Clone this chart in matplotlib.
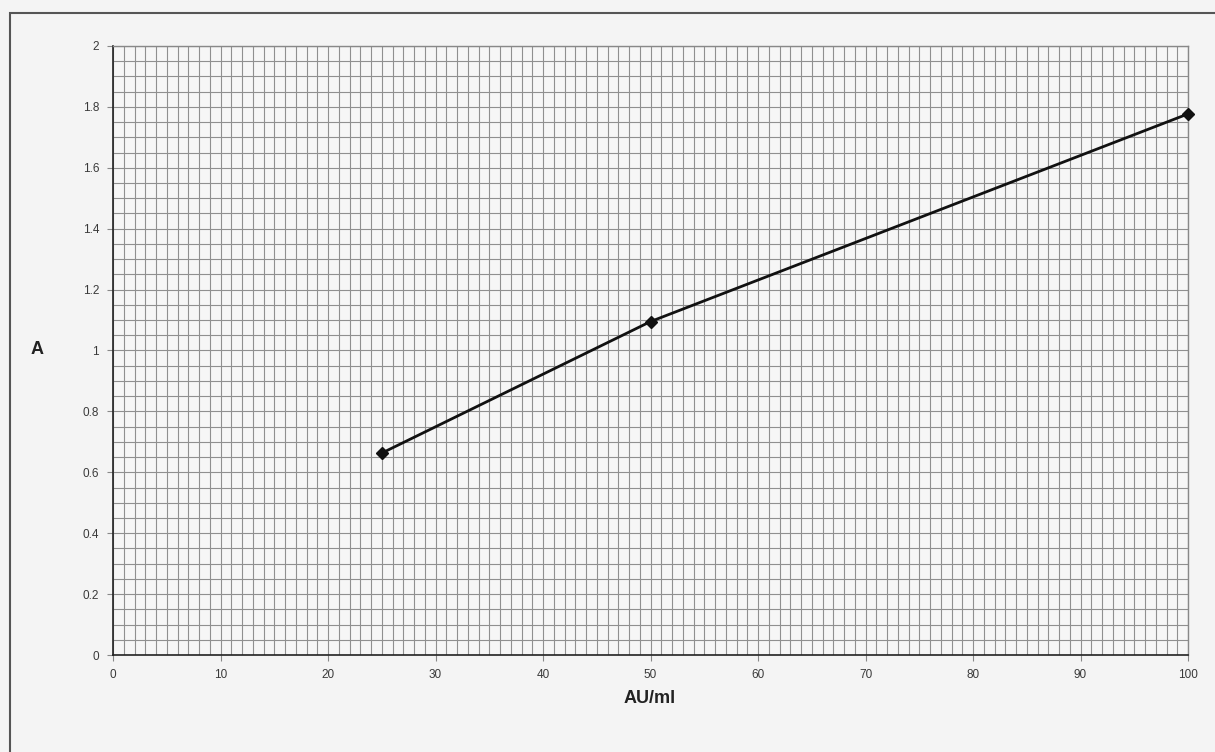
import matplotlib
matplotlib.use("Agg")
import matplotlib.pyplot as plt
from matplotlib.patches import Rectangle
import numpy as np

x_values = [25, 50, 100]
a_values = [0.663, 1.095, 1.777]
x_ticks = [0, 10, 20, 30, 40, 50, 60, 70, 80, 90, 100]
y_ticks = [0, 0.2, 0.4, 0.6, 0.8, 1, 1.2, 1.4, 1.6, 1.8, 2]
y_ticklabels = ["0", "0.2", "0.4", "0.6", "0.8", "1", "1.2", "1.4", "1.6", "1.8", "2"]

plt.rcParams['font.family'] = ['Liberation Sans', 'DejaVu Sans']

fig = plt.figure(figsize=(12.15, 7.52), dpi=100)
fig.patch.set_facecolor('#f4f4f4')

# outer chart frame
fig.patches.append(Rectangle((10/1215, -0.1), 1.2, 1 - 13/752 + 0.1,
                             transform=fig.transFigure, fill=False,
                             edgecolor='#555555', linewidth=1.5))

ax = fig.add_axes([113/1215, 1 - 655/752, (1188 - 113)/1215, (655 - 46)/752])
ax.set_facecolor('#f6f6f6')
ax.set_xlim(0, 100)
ax.set_ylim(0, 2)
ax.set_xticks(x_ticks)
ax.set_xticklabels([str(t) for t in x_ticks])
ax.set_yticks(y_ticks)
ax.set_yticklabels(y_ticklabels)
ax.set_xticks(np.arange(0, 101, 1), minor=True)
ax.set_yticks(np.linspace(0, 2, 41), minor=True)
ax.grid(which='both', color='#8f8f8f', linewidth=0.8)
ax.set_axisbelow(True)
ax.tick_params(which='minor', length=0)
ax.tick_params(which='major', length=4, color='#888888', labelsize=8.5,
               labelcolor='#3a3a3a', pad=6)

for side in ['top', 'right']:
    ax.spines[side].set_color('#888888')
    ax.spines[side].set_linewidth(1.0)
for side in ['left', 'bottom']:
    ax.spines[side].set_color('#222222')
    ax.spines[side].set_linewidth(1.2)

ax.plot(x_values, a_values, color='#111111', linewidth=2.0, marker='D',
        markersize=6, markerfacecolor='#111111', clip_on=False, zorder=5)

ax.set_xlabel('AU/ml', fontsize=13, fontweight='bold', color='#222222')
ax.xaxis.set_label_coords((650 - 113) / 1075, -(690 - 655) / 609)
ax.set_ylabel('A', fontsize=13, fontweight='bold', rotation=0,
              color='#222222', va='center', ha='center')
ax.yaxis.set_label_coords(-(113 - 37) / 1075, (655 - 350) / 609)

fig.savefig('out.png', dpi=100, facecolor=fig.get_facecolor())
